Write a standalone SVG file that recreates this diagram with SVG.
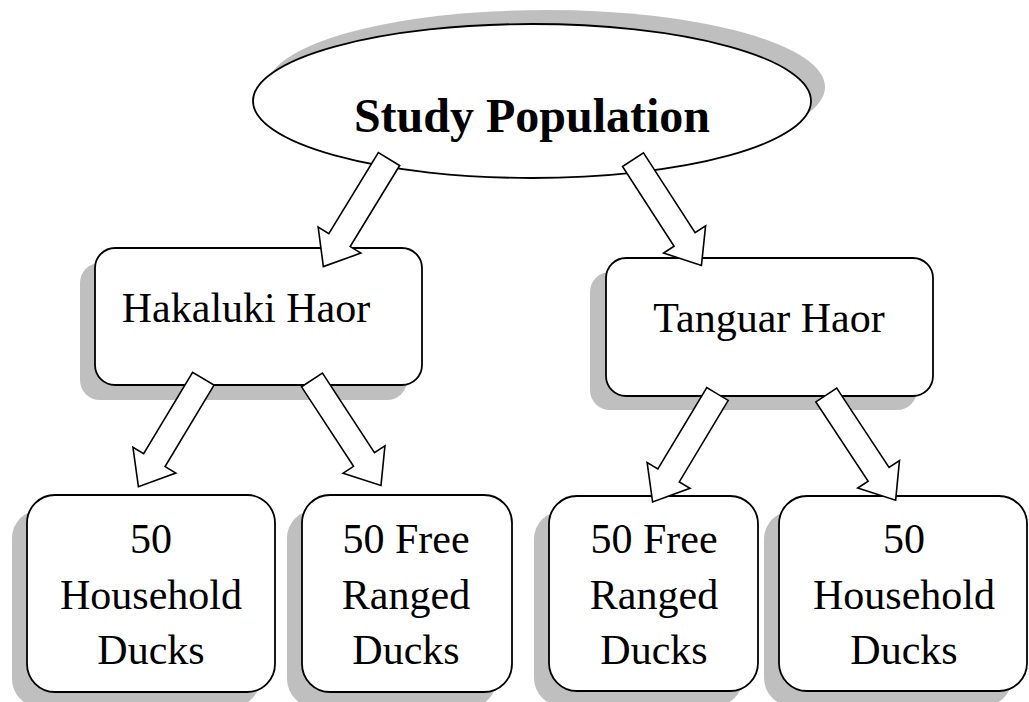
<svg xmlns="http://www.w3.org/2000/svg" width="1029" height="702" viewBox="0 0 1029 702">
  <defs>
    <style>
      .shadow { fill: #bfbfbf; stroke: none; }
      .node { fill: #ffffff; stroke: #000000; stroke-width: 1.8; }
      .arrow { fill: #ffffff; stroke: #000000; stroke-width: 1.6; stroke-linejoin: miter; }
      .t { font-family: "Liberation Serif", "Times New Roman", serif; font-size: 42px; fill: #000000; text-anchor: middle; }
      .title { font-family: "Liberation Serif", "Times New Roman", serif; font-size: 48px; font-weight: bold; fill: #000000; text-anchor: middle; }
    </style>
    <path id="blockArrow" d="M0,-12.5 L95,-12.5 L95,-25 L126,0 L95,25 L95,12.5 L0,12.5 Z"/>
  </defs>
  <rect width="1029" height="702" fill="#ffffff"/>

  <g id="study-population">
    <ellipse class="shadow" cx="546" cy="87" rx="279" ry="77"/>
    <ellipse class="node" cx="532" cy="101" rx="279" ry="77"/>
    <text class="title" x="532" y="132">Study Population</text>
  </g>

  <g id="hakaluki-haor">
    <rect class="shadow" x="80" y="263" width="327" height="137" rx="20" ry="20"/>
    <rect class="node" x="95" y="248" width="327" height="137" rx="20" ry="20"/>
    <text class="t" x="246" y="322">Hakaluki Haor</text>
  </g>

  <g id="tanguar-haor">
    <rect class="shadow" x="590" y="272" width="327" height="138" rx="20" ry="20"/>
    <rect class="node" x="606" y="258" width="327" height="138" rx="20" ry="20"/>
    <text class="t" x="769" y="332">Tanguar Haor</text>
  </g>

  <g id="hakaluki-household">
    <rect class="shadow" x="12" y="510" width="248" height="197" rx="28" ry="28"/>
    <rect class="node" x="27" y="495" width="248" height="197" rx="28" ry="28"/>
    <text class="t" x="151" y="553">50</text>
    <text class="t" x="151" y="609">Household</text>
    <text class="t" x="151" y="664">Ducks</text>
  </g>

  <g id="hakaluki-free-ranged">
    <rect class="shadow" x="287" y="510" width="210" height="197" rx="28" ry="28"/>
    <rect class="node" x="302" y="495" width="210" height="197" rx="28" ry="28"/>
    <text class="t" x="406" y="553">50 Free</text>
    <text class="t" x="406" y="609">Ranged</text>
    <text class="t" x="406" y="664">Ducks</text>
  </g>

  <g id="tanguar-free-ranged">
    <rect class="shadow" x="534" y="511" width="209" height="195" rx="28" ry="28"/>
    <rect class="node" x="549" y="496" width="209" height="195" rx="28" ry="28"/>
    <text class="t" x="654" y="553">50 Free</text>
    <text class="t" x="654" y="609">Ranged</text>
    <text class="t" x="654" y="664">Ducks</text>
  </g>

  <g id="tanguar-household">
    <rect class="shadow" x="764" y="511" width="248" height="195" rx="28" ry="28"/>
    <rect class="node" x="779" y="496" width="248" height="195" rx="28" ry="28"/>
    <text class="t" x="904" y="553">50</text>
    <text class="t" x="904" y="609">Household</text>
    <text class="t" x="904" y="664">Ducks</text>
  </g>

  <g id="connectors">
    <use href="#blockArrow" class="arrow" transform="translate(389,159) rotate(121.4)"/>
    <use href="#blockArrow" class="arrow" transform="translate(633,159.7) rotate(57.1)"/>
    <use href="#blockArrow" class="arrow" transform="translate(203.3,378.7) rotate(121)"/>
    <use href="#blockArrow" class="arrow" transform="translate(312,380) rotate(56.8)"/>
    <use href="#blockArrow" class="arrow" transform="translate(717.5,394) rotate(121)"/>
    <use href="#blockArrow" class="arrow" transform="translate(826.3,395) rotate(56.6)"/>
  </g>
</svg>
